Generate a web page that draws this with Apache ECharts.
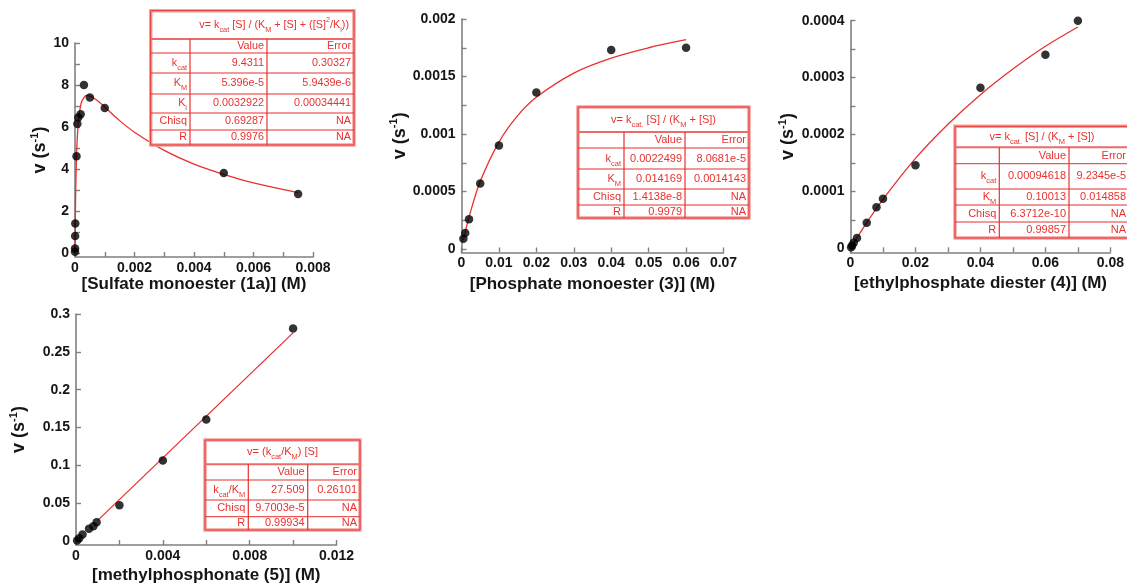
<!DOCTYPE html>
<html><head><meta charset="utf-8">
<script src="https://cdn.jsdelivr.net/npm/echarts@6/dist/echarts.min.js"></script>
<style>html,body{margin:0;padding:0;background:#fff}#c{width:1127px;height:585px}</style>
</head><body><div id="c"></div>
<script>
// ---------- DATA ----------
// Panel 1: sulfate monoester (1a)
const sulfatePoints = [[0,0.05],[0.000002,0.2],[0.000005,0.8],[0.00001,1.4],[0.00005,4.6],[0.00008,6.15],[0.00011,6.45],[0.00019,6.6],[0.0003,8.0],[0.0005,7.4],[0.001,6.9],[0.005,3.8],[0.0075,2.8]];
const sulfateFit = [[0,0],[0.00001,1.5],[0.00002,2.6],[0.00005,4.5],[0.0001,6.0],[0.0002,7.1],[0.0003,7.4],[0.0004,7.5],[0.0006,7.4],[0.0008,7.2],[0.001,6.95],[0.0015,6.3],[0.002,5.75],[0.003,4.88],[0.004,4.23],[0.005,3.74],[0.006,3.33],[0.0075,2.87]];
const sulfateXLabels = [0,0.002,0.004,0.006,0.008];
const sulfateXTicks = [0,0.001,0.002,0.003,0.004,0.005,0.006,0.007,0.008];
const sulfateYLabels = [0,2,4,6,8,10];
const sulfateYTicks = [0,1,2,3,4,5,6,7,8,9,10];
const sulfateTitle = '{t|v= k}{sub|cat}{t| [S] / (K}{sub|M}{t| + [S] + ([S]}{sup|2}{t|/K}{sub|i}{t|))}';
const sulfateRows = [
  ['', 'Value', 'Error'],
  ['{t|k}{sub|cat}', '9.4311', '0.30327'],
  ['{t|K}{sub|M}', '5.396e-5', '5.9439e-6'],
  ['{t|K}{sub|i}', '0.0032922', '0.00034441'],
  ['Chisq', '0.69287', 'NA'],
  ['R', '0.9976', 'NA']
];

// Panel 2: phosphate monoester (3)
const phosphatePoints = [[0.0005,0.00009],[0.001,0.00014],[0.002,0.00026],[0.005,0.00057],[0.01,0.0009],[0.02,0.00136],[0.04,0.00173],[0.06,0.00175]];
const phosphateFit = [[0.0005,0.00008],[0.001,0.000148],[0.002,0.000278],[0.005,0.000587],[0.01,0.00093],[0.015,0.00116],[0.02,0.00132],[0.03,0.00153],[0.04,0.00166],[0.05,0.00175],[0.06,0.00182]];
const phosphateXLabels = [0,0.01,0.02,0.03,0.04,0.05,0.06,0.07];
const phosphateXTicks = [0,0.01,0.02,0.03,0.04,0.05,0.06,0.07];
const phosphateYLabels = [0,0.0005,0.001,0.0015,0.002];
const phosphateYTicks = [0,0.00025,0.0005,0.00075,0.001,0.00125,0.0015,0.00175,0.002];
const phosphateTitle = '{t|v= k}{sub|cat.}{t| [S] / (K}{sub|M}{t| + [S])}';
const phosphateRows = [
  ['', 'Value', 'Error'],
  ['{t|k}{sub|cat}', '0.0022499', '8.0681e-5'],
  ['{t|K}{sub|M}', '0.014169', '0.0014143'],
  ['Chisq', '1.4138e-8', 'NA'],
  ['R', '0.9979', 'NA']
];

// Panel 3: ethylphosphate diester (4)
const diesterPoints = [[0.0002,0.000002],[0.0005,0.000005],[0.001,0.00001],[0.002,0.000018],[0.005,0.000045],[0.008,0.000072],[0.01,0.000087],[0.02,0.000146],[0.04,0.000282],[0.06,0.00034],[0.07,0.0004]];
const diesterFit = [[0,0],[0.005,0.000045],[0.01,0.000086],[0.02,0.000158],[0.03,0.000218],[0.04,0.00027],[0.05,0.000315],[0.06,0.000355],[0.07,0.000389]];
const diesterXLabels = [0,0.02,0.04,0.06,0.08];
const diesterXTicks = [0,0.01,0.02,0.03,0.04,0.05,0.06,0.07,0.08];
const diesterYLabels = [0,0.0001,0.0002,0.0003,0.0004];
const diesterYTicks = [0,0.00005,0.0001,0.00015,0.0002,0.00025,0.0003,0.00035,0.0004];
const diesterTitle = '{t|v= k}{sub|cat.}{t| [S] / (K}{sub|M}{t| + [S])}';
const diesterRows = [
  ['', 'Value', 'Error'],
  ['{t|k}{sub|cat}', '0.00094618', '9.2345e-5'],
  ['{t|K}{sub|M}', '0.10013', '0.014858'],
  ['Chisq', '6.3712e-10', 'NA'],
  ['R', '0.99857', 'NA']
];

// Panel 4: methylphosphonate (5)
const phosphonatePoints = [[0.00005,0.001],[0.00015,0.004],[0.0003,0.009],[0.0006,0.0164],[0.0008,0.0198],[0.00095,0.025],[0.002,0.0475],[0.004,0.1065],[0.006,0.1606],[0.01,0.281]];
const phosphonateFit = [[0.001,0.0275],[0.01,0.2751]];
const phosphonateXLabels = [0,0.004,0.008,0.012];
const phosphonateXTicks = [0,0.002,0.004,0.006,0.008,0.01,0.012];
const phosphonateYLabels = [0,0.05,0.1,0.15,0.2,0.25,0.3];
const phosphonateYTicks = [0,0.05,0.1,0.15,0.2,0.25,0.3];
const phosphonateTitle = '{t|v= (k}{sub|cat}{t|/K}{sub|M}{t|) [S]}';
const phosphonateRows = [
  ['', 'Value', 'Error'],
  ['{t|k}{sub|cat}{t|/K}{sub|M}', '27.509', '0.26101'],
  ['Chisq', '9.7003e-5', 'NA'],
  ['R', '0.99934', 'NA']
];

const xNames = ['[Sulfate monoester (1a)] (M)', '[Phosphate monoester (3)] (M)', '[ethylphosphate diester (4)] (M)', '[methylphosphonate (5)] (M)'];
const yName = '{a|v (s}{s|-1}{a|)}';

// ---------- STYLE / LAYOUT ----------
const FF = 'Liberation Sans, Arial, Helvetica, sans-serif';
const RED = '#e8312f';
const AX = '#808080';

const grids = [
  {left: 75, top: 43, width: 238, height: 214},
  {left: 461.5, top: 19, width: 262, height: 233.5},
  {left: 850.5, top: 20.7, width: 262.5, height: 231.6},
  {left: 76, top: 314, width: 260.5, height: 231.7}
];
const xRanges = [[0,0.008],[0,0.07],[0,0.08],[0,0.012]];
const yRanges = [[-0.2,10],[-0.00003,0.002],[-0.000007,0.0004],[-0.005,0.3]];
const xLabelSets = [sulfateXLabels, phosphateXLabels, diesterXLabels, phosphonateXLabels];
const xTickSets = [sulfateXTicks, phosphateXTicks, diesterXTicks, phosphonateXTicks];
const yLabelSets = [sulfateYLabels, phosphateYLabels, diesterYLabels, phosphonateYLabels];
const yTickSets = [sulfateYTicks, phosphateYTicks, diesterYTicks, phosphonateYTicks];
const xNameGaps = [19, 23, 23, 22];
const yNameGaps = [23, 47, 51, 46];
const pointSets = [sulfatePoints, phosphatePoints, diesterPoints, phosphonatePoints];
const fitSets = [sulfateFit, phosphateFit, diesterFit, phosphonateFit];

function axisCommon(i) {
  return {
    type: 'value', gridIndex: i,
    splitLine: {show: false},
    axisLine: {show: true, onZero: false, lineStyle: {color: AX, width: 1.6}},
    axisTick: {show: true, inside: true, length: 5, lineStyle: {color: AX, width: 1.4}},
    axisLabel: {fontSize: 14, fontWeight: 'bold', color: '#151515', fontFamily: FF, formatter: v => String(v)}
  };
}

const xAxes = grids.map((g, i) => {
  const a = axisCommon(i);
  a.min = xRanges[i][0]; a.max = xRanges[i][1];
  a.axisTick.customValues = xTickSets[i];
  a.axisLabel.customValues = xLabelSets[i];
  a.axisLabel.margin = 4;
  a.name = xNames[i]; a.nameLocation = 'middle'; a.nameGap = xNameGaps[i];
  a.nameTextStyle = {fontSize: 17, fontWeight: 'bold', color: '#151515', fontFamily: FF, verticalAlign: 'top'};
  return a;
});
const yAxes = grids.map((g, i) => {
  const a = axisCommon(i);
  a.min = yRanges[i][0]; a.max = yRanges[i][1];
  a.axisTick.customValues = yTickSets[i];
  a.axisLabel.customValues = yLabelSets[i];
  a.axisLabel.margin = 6;
  a.name = yName; a.nameLocation = 'middle'; a.nameGap = yNameGaps[i]; a.nameRotate = 90;
  a.nameTextStyle = {
    fontFamily: FF, color: '#151515',
    rich: {
      a: {fontSize: 18, fontWeight: 'bold', fontFamily: FF, color: '#151515', lineHeight: 22},
      s: {fontSize: 11, fontWeight: 'bold', fontFamily: FF, color: '#151515', verticalAlign: 'top', lineHeight: 22}
    }
  };
  return a;
});

const series = [];
grids.forEach((g, i) => {
  series.push({
    type: 'line', xAxisIndex: i, yAxisIndex: i, data: fitSets[i],
    showSymbol: false, smooth: i === 3 ? false : 0.35,
    lineStyle: {color: RED, width: 1.3}, silent: true, z: 2
  });
  series.push({
    type: 'scatter', xAxisIndex: i, yAxisIndex: i, data: pointSets[i],
    symbolSize: 8.5, itemStyle: {color: '#000'}, z: 3
  });
});

// ---------- TABLES (graphic) ----------
function richStyles(fs) {
  return {
    t: {fontSize: fs, fontFamily: FF, fill: RED, color: RED, lineHeight: fs + 6},
    sub: {fontSize: fs * 0.68, fontFamily: FF, fill: RED, color: RED, verticalAlign: 'bottom', lineHeight: fs + 6},
    sup: {fontSize: fs * 0.68, fontFamily: FF, fill: RED, color: RED, verticalAlign: 'top', lineHeight: fs + 6}
  };
}
function buildTable(box, title, rows, fs, titleAlign) {
  const {left, right, cols, ys} = box;
  const top = ys[0], bottom = ys[ys.length - 1];
  const els = [];
  const rich = richStyles(fs);
  els.push({type: 'rect', z: 100, shape: {x: left, y: top, width: right - left, height: bottom - top},
    style: {fill: '#fff', stroke: '#f4a0a0', lineWidth: 3.5}});
  els.push({type: 'rect', z: 101, shape: {x: left, y: top, width: right - left, height: bottom - top},
    style: {fill: 'none', stroke: RED, lineWidth: 1}});
  for (let i = 1; i < ys.length - 1; i++) {
    els.push({type: 'line', z: 101, shape: {x1: left, y1: ys[i], x2: right, y2: ys[i]},
      style: {stroke: i === 1 ? '#ee6a68' : RED, lineWidth: i === 1 ? 2 : 1}});
  }
  cols.forEach(cx => els.push({type: 'line', z: 101, shape: {x1: cx, y1: ys[1], x2: cx, y2: bottom},
    style: {stroke: RED, lineWidth: 1.2}}));
  const tx = titleAlign === 'right' ? right - 5 : (left + right) / 2;
  els.push({type: 'text', z: 102, x: tx, y: (ys[0] + ys[1]) / 2,
    style: {text: title, align: titleAlign, verticalAlign: 'middle', textAlign: titleAlign, textVerticalAlign: 'middle',
      fill: RED, fontSize: fs, fontFamily: FF, rich}});
  const edges = cols.concat([right]);
  rows.forEach((row, r) => row.forEach((cell, c) => {
    if (!cell) return;
    els.push({type: 'text', z: 102, x: edges[c] - 3, y: (ys[r + 1] + ys[r + 2]) / 2,
      style: {text: cell, align: 'right', verticalAlign: 'middle', textAlign: 'right', textVerticalAlign: 'middle',
        fill: RED, fontSize: fs, fontFamily: FF, rich}});
  }));
  return els;
}

const graphics = []
  .concat(buildTable({left: 150.7, right: 354, cols: [190, 267], ys: [10.7, 39, 53, 73, 94, 113, 130, 145]}, sulfateTitle, sulfateRows, 10.8, 'right'))
  .concat(buildTable({left: 578, right: 749, cols: [624, 685], ys: [107, 132, 148, 169, 189, 205, 218]}, phosphateTitle, phosphateRows, 11, 'center'))
  .concat(buildTable({left: 955, right: 1129, cols: [999.3, 1069], ys: [126.3, 147.3, 163.7, 189, 205, 222, 238]}, diesterTitle, diesterRows, 11, 'center'))
  .concat(buildTable({left: 205, right: 360, cols: [248.3, 307.7], ys: [440, 464.3, 480, 500, 516.7, 530]}, phosphonateTitle, phosphonateRows, 11, 'center'));

const chart = echarts.init(document.getElementById('c'), null, {renderer: 'canvas'});
chart.setOption({
  animation: false,
  backgroundColor: '#fff',
  grid: grids.map(g => Object.assign({containLabel: false}, g)),
  xAxis: xAxes,
  yAxis: yAxes,
  series: series,
  graphic: {elements: graphics}
});
</script>
</body></html>
